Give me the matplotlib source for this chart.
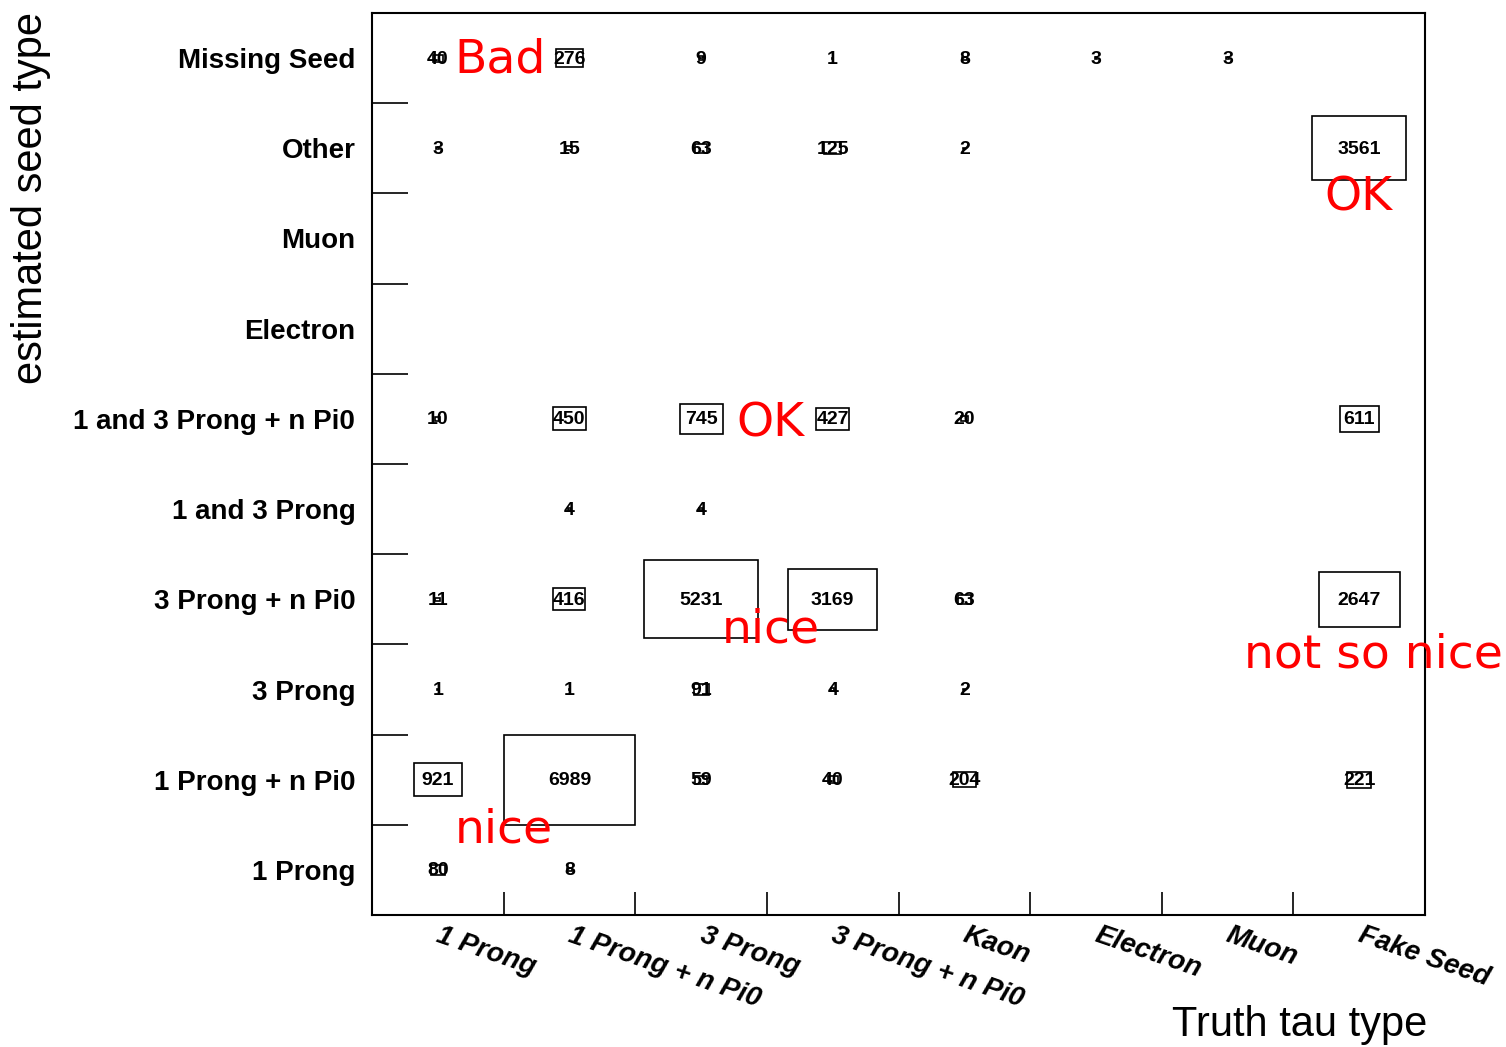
import matplotlib
matplotlib.use("Agg")
import matplotlib.pyplot as plt
import numpy as np
from matplotlib.patches import Rectangle
from matplotlib.transforms import blended_transform_factory

# truth categories (x) and estimated seed categories (y, bottom to top)
truth_types = ['1 Prong', '1 Prong + n Pi0', '3 Prong', '3 Prong + n Pi0',
               'Kaon', 'Electron', 'Muon', 'Fake Seed']
seed_types = ['1 Prong', '1 Prong + n Pi0', '3 Prong', '3 Prong + n Pi0',
              '1 and 3 Prong', '1 and 3 Prong + n Pi0', 'Electron', 'Muon',
              'Other', 'Missing Seed']

# counts per seed row (same order as seed_types), columns follow truth_types
row_1p = [80, 8, 0, 0, 0, 0, 0, 0]
row_1pn = [921, 6989, 59, 40, 204, 0, 0, 221]
row_3p = [1, 1, 91, 4, 2, 0, 0, 0]
row_3pn = [11, 416, 5231, 3169, 63, 0, 0, 2647]
row_13p = [0, 4, 4, 0, 0, 0, 0, 0]
row_13pn = [10, 450, 745, 427, 20, 0, 0, 611]
row_ele = [0, 0, 0, 0, 0, 0, 0, 0]
row_muo = [0, 0, 0, 0, 0, 0, 0, 0]
row_other = [3, 15, 63, 125, 2, 0, 0, 3561]
row_missing = [40, 276, 9, 1, 8, 3, 3, 0]

counts = np.array([row_1p, row_1pn, row_3p, row_3pn, row_13p, row_13pn,
                   row_ele, row_muo, row_other, row_missing])

# hand-written notes on the plot (text, x px, y px)
notes = [('Bad', 500, 60), ('OK', 1358, 198), ('OK', 770, 424),
         ('nice', 771, 630), ('not so nice', 1373, 655), ('nice', 504, 830)]

W, H = 1506, 1047
fig = plt.figure(figsize=(W / 100, H / 100), dpi=100)
ax = fig.add_axes([372 / W, 1 - 915 / H, (1425 - 372) / W, (915 - 13) / H])

nx, ny = len(truth_types), len(seed_types)
ax.set_xlim(0, nx)
ax.set_ylim(0, ny)

vmax = counts.max()
for j in range(ny):
    for i in range(nx):
        v = counts[j, i]
        if v <= 0:
            continue
        s = np.sqrt(v / vmax)
        ax.add_patch(Rectangle((i + 0.5 - s / 2, j + 0.5 - s / 2), s, s,
                               fill=False, ec='black', lw=1.2))
        ax.text(i + 0.5, j + 0.49, str(v), ha='center', va='center',
                fontsize=14, fontweight='bold', family='Liberation Sans')

for sp in ax.spines.values():
    sp.set_linewidth(1.5)

# y axis: labels at row centres, ticks at bin edges
ax.set_yticks(np.arange(ny) + 0.5)
ax.set_yticklabels(seed_types, fontsize=20, fontweight='bold',
                   family='Liberation Sans')
ax.tick_params(axis='y', length=0, pad=12)
ax.set_yticks(np.arange(1, ny), minor=True)
ax.tick_params(axis='y', which='minor', direction='in', length=26, width=1.2)

# x axis: ticks at bin edges, rotated labels drawn by hand
ax.set_xticks(np.arange(1, nx))
ax.set_xticklabels([])
ax.tick_params(axis='x', direction='in', length=16.5, width=1.2)
trans = blended_transform_factory(ax.transData, ax.transAxes)
for i, lab in enumerate(truth_types):
    ax.text(i + 0.53, -0.008, lab, transform=trans, rotation=-19,
            rotation_mode='anchor', ha='left', va='top', fontsize=20,
            fontweight='bold', fontstyle='italic', family='Liberation Sans')

fig.text(1427 / W, 1 - 1025 / H, 'Truth tau type', ha='right', va='center',
         fontsize=30, family='Liberation Sans')
fig.text(31 / W, 1 - 12 / H, 'estimated seed type', rotation=90,
         ha='center', va='top', fontsize=30, family='Liberation Sans')

for txt, px, py in notes:
    fig.text(px / W, 1 - py / H, txt, color='red', ha='center', va='center',
             fontsize=34, family='DejaVu Sans')

fig.savefig('out.png', dpi=100)
